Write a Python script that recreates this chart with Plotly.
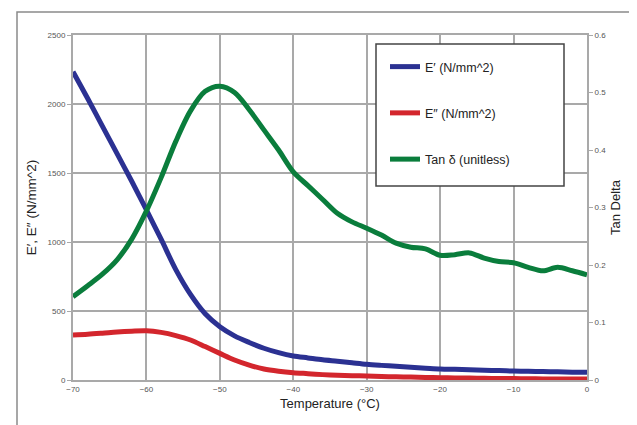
import plotly.graph_objects as go

# ---- data ----
temperature = [-70, -68, -66, -64, -62, -60, -58, -56, -54, -52, -50, -48, -46, -44, -42, -40,
               -38, -36, -34, -32, -30, -28, -26, -24, -22, -20, -18, -16, -14, -12, -10,
               -8, -6, -4, -2, 0]

e_storage = [2234, 2040, 1840, 1640, 1440, 1232, 1020, 800, 620, 480, 386, 320, 272, 230, 198, 174,
             160, 146, 136, 125, 114, 106, 99, 92, 86, 80, 77, 74, 71, 68, 65,
             63, 61, 59, 57, 56]

e_loss = [326, 331, 339, 348, 354, 357, 345, 322, 290, 242, 193, 145, 108, 80, 64, 53,
          46, 39, 34, 31, 29, 26, 23, 21, 19, 17, 15, 14, 12, 11, 10,
          9, 8, 8, 7, 7]

tan_delta = [0.145, 0.164, 0.184, 0.209, 0.245, 0.294, 0.352, 0.415, 0.468, 0.502, 0.511, 0.500,
             0.470, 0.435, 0.400, 0.362, 0.338, 0.314, 0.290, 0.275, 0.264, 0.252, 0.238, 0.231,
             0.228, 0.217, 0.218, 0.221, 0.212, 0.206, 0.204, 0.196, 0.190, 0.196, 0.190, 0.183]

series_names = ["E\u2032 (N/mm^2)", "E\u2033 (N/mm^2)", "Tan \u03b4 (unitless)"]
series_colors = ["#2b3192", "#d3262d", "#0a7d3c"]

x_ticks = [-70, -60, -50, -40, -30, -20, -10, 0]

FONT = "Liberation Sans, Arial, sans-serif"
GRID = "#a9a9a9"

fig = go.Figure()
fig.add_trace(go.Scatter(x=temperature, y=e_storage, name=series_names[0], mode="lines",
                         line=dict(color=series_colors[0], width=5, shape="spline", smoothing=0.9),
                         legendgroup="a"))
fig.add_trace(go.Scatter(x=temperature, y=e_loss, name=series_names[1], mode="lines",
                         line=dict(color=series_colors[1], width=5, shape="spline", smoothing=0.9),
                         legendgroup="b"))
fig.add_trace(go.Scatter(x=temperature, y=tan_delta, name=series_names[2], mode="lines",
                         line=dict(color=series_colors[2], width=5, shape="spline", smoothing=0.9),
                         legendgroup="c", yaxis="y2"))

# page body has an 8px margin in the browser
OFF = 8
W, H = 637 - OFF, 425 - OFF
L, R, T, B = 73 - OFF, 50, 35 - OFF, 45
pw, ph = W - L - R, H - T - B


def px_to_paper_x(px):
    # px given in reference-screen coordinates
    return (px - OFF - L) / pw


def px_to_paper_y(py):
    return (H - B - (py - OFF)) / ph


fig.update_layout(
    width=W, height=H,
    margin=dict(l=L, r=R, t=T, b=B, autoexpand=False),
    paper_bgcolor="white", plot_bgcolor="white",
    font=dict(family=FONT, color="#333"),
    showlegend=True,
    legend=dict(x=px_to_paper_x(385), xanchor="left",
                y=px_to_paper_y(52), yanchor="top",
                bgcolor="rgba(0,0,0,0)", borderwidth=0,
                font=dict(family=FONT, size=12.5, color="#222"),
                tracegroupgap=27, itemwidth=30),
    xaxis=dict(range=[-70, 0], tickvals=x_ticks, showgrid=True, gridcolor=GRID, gridwidth=2,
               zeroline=False, showline=True, linecolor=GRID, linewidth=2, mirror=True,
               ticks="", tickfont=dict(size=8, color="#555"),
               title=dict(text="Temperature (\u00b0C)", font=dict(size=13, color="#222"), standoff=6)),
    yaxis=dict(range=[0, 2500], dtick=500, showgrid=True, gridcolor=GRID, gridwidth=2,
               zeroline=False, showline=True, linecolor=GRID, linewidth=2, mirror=True,
               ticks="outside", ticklen=4, tickcolor=GRID, tickfont=dict(size=8, color="#555"),
               title=dict(text="E\u2032, E\u2033 (N/mm^2)", font=dict(size=13.5, color="#222"), standoff=8)),
    yaxis2=dict(range=[0, 0.6], dtick=0.1, overlaying="y", side="right", showgrid=False,
                zeroline=False, showline=True, linecolor=GRID, linewidth=2,
                ticks="outside", ticklen=4, tickcolor=GRID, tickfont=dict(size=8, color="#555"),
                title=dict(text="Tan Delta", font=dict(size=13, color="#222"), standoff=6)),
    shapes=[
        # outer frame
        dict(type="rect", xref="paper", yref="paper",
             x0=px_to_paper_x(17), x1=px_to_paper_x(634),
             y0=px_to_paper_y(445), y1=px_to_paper_y(12),
             line=dict(color="#8a8a8a", width=1.5), fillcolor="rgba(0,0,0,0)", layer="below"),
        # legend box
        dict(type="rect", xref="paper", yref="paper",
             x0=px_to_paper_x(376), x1=px_to_paper_x(564),
             y0=px_to_paper_y(186), y1=px_to_paper_y(44),
             line=dict(color="#444", width=1.5), fillcolor="white", layer="above"),
    ],
)

fig.write_html("out.html")
